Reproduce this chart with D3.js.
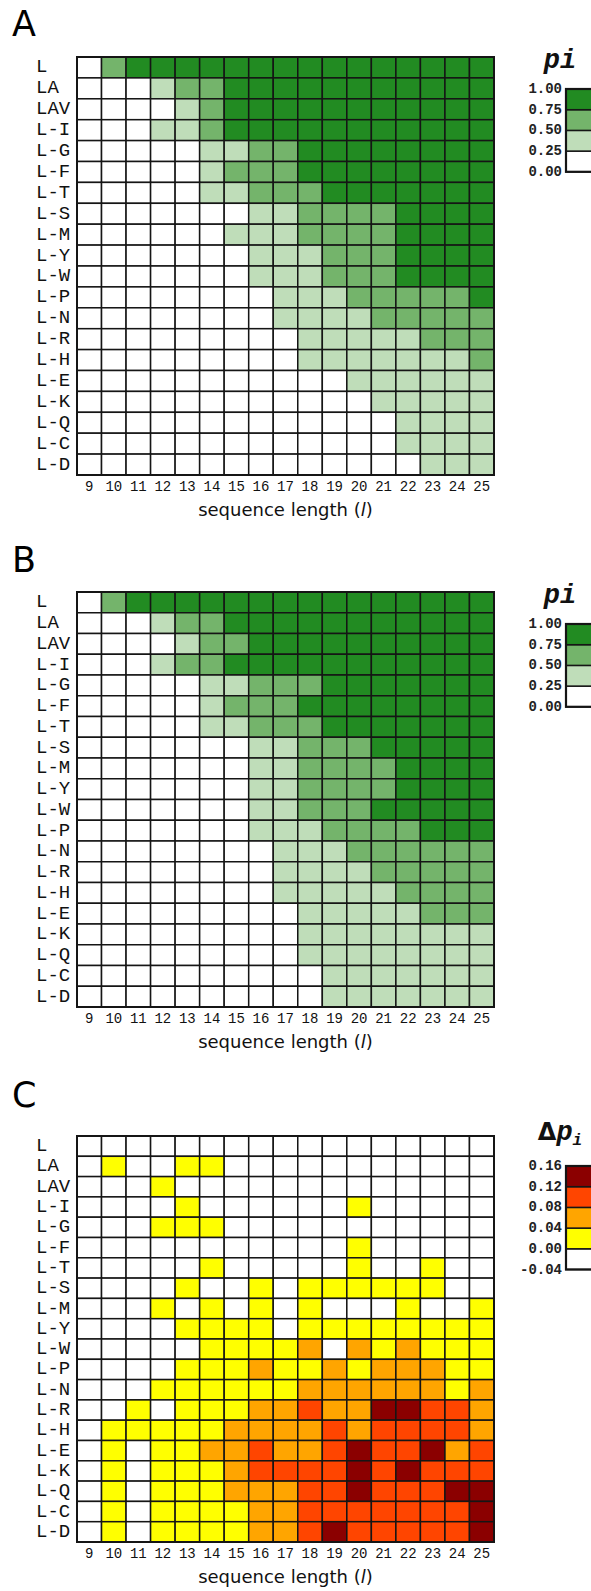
<!DOCTYPE html>
<html><head><meta charset="utf-8">
<script src="https://cdn.jsdelivr.net/npm/d3@7"></script>
<style>body{margin:0;background:#fff}svg{display:block}</style>
</head><body>
<script>
// ---------- data ----------
const lengths = ["9","10","11","12","13","14","15","16","17","18","19","20","21","22","23","24","25"];
const rowLabels = ["L","LA","LAV","L-I","L-G","L-F","L-T","L-S","L-M","L-Y","L-W","L-P","L-N","L-R","L-H","L-E","L-K","L-Q","L-C","L-D"];

// panel A: p_i (estimated per colour bin)
const pA = [
[.1,.6,.9,.9,.9,.9,.9,.9,.9,.9,.9,.9,.9,.9,.9,.9,.9],
[.1,.1,.1,.4,.6,.6,.9,.9,.9,.9,.9,.9,.9,.9,.9,.9,.9],
[.1,.1,.1,.1,.4,.6,.9,.9,.9,.9,.9,.9,.9,.9,.9,.9,.9],
[.1,.1,.1,.4,.4,.6,.9,.9,.9,.9,.9,.9,.9,.9,.9,.9,.9],
[.1,.1,.1,.1,.1,.4,.4,.6,.6,.9,.9,.9,.9,.9,.9,.9,.9],
[.1,.1,.1,.1,.1,.4,.6,.6,.6,.9,.9,.9,.9,.9,.9,.9,.9],
[.1,.1,.1,.1,.1,.4,.4,.6,.6,.6,.9,.9,.9,.9,.9,.9,.9],
[.1,.1,.1,.1,.1,.1,.1,.4,.4,.6,.6,.6,.6,.9,.9,.9,.9],
[.1,.1,.1,.1,.1,.1,.4,.4,.4,.6,.6,.6,.6,.9,.9,.9,.9],
[.1,.1,.1,.1,.1,.1,.1,.4,.4,.4,.6,.6,.6,.9,.9,.9,.9],
[.1,.1,.1,.1,.1,.1,.1,.4,.4,.4,.6,.6,.6,.9,.9,.9,.9],
[.1,.1,.1,.1,.1,.1,.1,.1,.4,.4,.4,.6,.6,.6,.6,.6,.9],
[.1,.1,.1,.1,.1,.1,.1,.1,.4,.4,.4,.4,.6,.6,.6,.6,.6],
[.1,.1,.1,.1,.1,.1,.1,.1,.1,.4,.4,.4,.4,.4,.6,.6,.6],
[.1,.1,.1,.1,.1,.1,.1,.1,.1,.4,.4,.4,.4,.4,.4,.4,.6],
[.1,.1,.1,.1,.1,.1,.1,.1,.1,.1,.1,.4,.4,.4,.4,.4,.4],
[.1,.1,.1,.1,.1,.1,.1,.1,.1,.1,.1,.1,.4,.4,.4,.4,.4],
[.1,.1,.1,.1,.1,.1,.1,.1,.1,.1,.1,.1,.1,.4,.4,.4,.4],
[.1,.1,.1,.1,.1,.1,.1,.1,.1,.1,.1,.1,.1,.4,.4,.4,.4],
[.1,.1,.1,.1,.1,.1,.1,.1,.1,.1,.1,.1,.1,.1,.4,.4,.4]
];

// panel B: p_i
const pB = [
[.1,.6,.9,.9,.9,.9,.9,.9,.9,.9,.9,.9,.9,.9,.9,.9,.9],
[.1,.1,.1,.4,.6,.6,.9,.9,.9,.9,.9,.9,.9,.9,.9,.9,.9],
[.1,.1,.1,.1,.4,.6,.6,.9,.9,.9,.9,.9,.9,.9,.9,.9,.9],
[.1,.1,.1,.4,.6,.6,.9,.9,.9,.9,.9,.9,.9,.9,.9,.9,.9],
[.1,.1,.1,.1,.1,.4,.4,.6,.6,.6,.9,.9,.9,.9,.9,.9,.9],
[.1,.1,.1,.1,.1,.4,.6,.6,.6,.9,.9,.9,.9,.9,.9,.9,.9],
[.1,.1,.1,.1,.1,.4,.4,.6,.6,.6,.9,.9,.9,.9,.9,.9,.9],
[.1,.1,.1,.1,.1,.1,.1,.4,.4,.6,.6,.6,.9,.9,.9,.9,.9],
[.1,.1,.1,.1,.1,.1,.1,.4,.4,.6,.6,.6,.6,.9,.9,.9,.9],
[.1,.1,.1,.1,.1,.1,.1,.4,.4,.6,.6,.6,.6,.9,.9,.9,.9],
[.1,.1,.1,.1,.1,.1,.1,.4,.4,.6,.6,.6,.9,.9,.9,.9,.9],
[.1,.1,.1,.1,.1,.1,.1,.4,.4,.4,.6,.6,.6,.6,.9,.9,.9],
[.1,.1,.1,.1,.1,.1,.1,.1,.4,.4,.4,.6,.6,.6,.6,.6,.6],
[.1,.1,.1,.1,.1,.1,.1,.1,.4,.4,.4,.4,.6,.6,.6,.6,.6],
[.1,.1,.1,.1,.1,.1,.1,.1,.4,.4,.4,.4,.4,.6,.6,.6,.6],
[.1,.1,.1,.1,.1,.1,.1,.1,.1,.4,.4,.4,.4,.4,.6,.6,.6],
[.1,.1,.1,.1,.1,.1,.1,.1,.1,.4,.4,.4,.4,.4,.4,.4,.4],
[.1,.1,.1,.1,.1,.1,.1,.1,.1,.4,.4,.4,.4,.4,.4,.4,.4],
[.1,.1,.1,.1,.1,.1,.1,.1,.1,.1,.4,.4,.4,.4,.4,.4,.4],
[.1,.1,.1,.1,.1,.1,.1,.1,.1,.1,.4,.4,.4,.4,.4,.4,.4]
];

// panel C: delta p_i
const dC = [
[-.02,-.02,-.02,-.02,-.02,-.02,-.02,-.02,-.02,-.02,-.02,-.02,-.02,-.02,-.02,-.02,-.02],
[-.02,.02,-.02,-.02,.02,.02,-.02,-.02,-.02,-.02,-.02,-.02,-.02,-.02,-.02,-.02,-.02],
[-.02,-.02,-.02,.02,-.02,-.02,-.02,-.02,-.02,-.02,-.02,-.02,-.02,-.02,-.02,-.02,-.02],
[-.02,-.02,-.02,-.02,.02,-.02,-.02,-.02,-.02,-.02,-.02,.02,-.02,-.02,-.02,-.02,-.02],
[-.02,-.02,-.02,.02,.02,.02,-.02,-.02,-.02,-.02,-.02,-.02,-.02,-.02,-.02,-.02,-.02],
[-.02,-.02,-.02,-.02,-.02,-.02,-.02,-.02,-.02,-.02,-.02,.02,-.02,-.02,-.02,-.02,-.02],
[-.02,-.02,-.02,-.02,-.02,.02,-.02,-.02,-.02,-.02,-.02,.02,-.02,-.02,.02,-.02,-.02],
[-.02,-.02,-.02,-.02,.02,-.02,-.02,.02,-.02,.02,.02,.02,.02,.02,.02,-.02,-.02],
[-.02,-.02,-.02,.02,-.02,.02,-.02,.02,-.02,.02,-.02,-.02,-.02,.02,-.02,-.02,.02],
[-.02,-.02,-.02,-.02,.02,.02,.02,.02,-.02,.02,.02,.02,.02,.02,.02,.02,.02],
[-.02,-.02,-.02,-.02,-.02,.02,.02,.02,.02,.06,-.02,.06,.02,.06,.02,.02,.02],
[-.02,-.02,-.02,-.02,.02,.02,.02,.06,.02,.02,.06,.02,.06,.06,.06,.02,.02],
[-.02,-.02,-.02,.02,.02,.02,.02,.02,.02,.06,.06,.06,.06,.06,.06,.02,.06],
[-.02,-.02,.02,-.02,.02,.02,.02,.06,.06,.10,.06,.06,.14,.14,.10,.10,.06],
[-.02,.02,.02,.02,.02,.02,.06,.06,.06,.06,.10,.06,.10,.10,.10,.10,.06],
[-.02,.02,-.02,.02,.02,.06,.06,.10,.06,.06,.10,.14,.10,.10,.14,.06,.10],
[-.02,.02,-.02,.02,.02,.02,.06,.10,.10,.10,.10,.14,.10,.14,.10,.10,.10],
[-.02,.02,-.02,.02,.02,.02,.06,.06,.06,.10,.10,.14,.10,.10,.10,.14,.14],
[-.02,.02,-.02,.02,.02,.02,.02,.06,.06,.10,.10,.10,.10,.10,.10,.10,.14],
[-.02,.02,-.02,.02,.02,.02,.02,.06,.06,.10,.14,.10,.10,.10,.10,.10,.14]
];

const pBreaks = [0, 0.25, 0.5, 0.75, 1.0];
const pColors = ["#ffffff", "#bfddb9", "#74b46b", "#228b22"];
const pTickLabels = ["0.00","0.25","0.50","0.75","1.00"];
const dBreaks = [-0.04, 0, 0.04, 0.08, 0.12, 0.16];
const dColors = ["#ffffff", "#ffff00", "#ffa500", "#ff4500", "#8b0000"];
const dTickLabels = ["-0.04","0.00","0.04","0.08","0.12","0.16"];

// ---------- drawing ----------
const W = 591, H = 1591;
const svg = d3.select("body").append("svg").attr("width", W).attr("height", H);
const mono = "'Courier New','Liberation Mono',monospace";
const sans = "'DejaVu Sans',sans-serif";
const x = d3.scaleBand().domain(lengths).range([77, 494]);

function panel(cfg) {
  const g = svg.append("g");
  const y = d3.scaleBand().domain(rowLabels).range([cfg.top, cfg.bottom]);
  const color = d3.scaleThreshold().domain(cfg.breaks.slice(1, -1)).range(cfg.colors);

  g.append("text").attr("x", 12).attr("y", cfg.letterY)
    .attr("font-family", sans).attr("font-size", 35).text(cfg.letter);

  const cells = [];
  cfg.values.forEach((row, i) => row.forEach((v, j) => cells.push({r: rowLabels[i], c: lengths[j], v})));
  g.selectAll("rect.cell").data(cells).join("rect").attr("class", "cell")
    .attr("x", d => x(d.c)).attr("y", d => y(d.r))
    .attr("width", x.bandwidth()).attr("height", y.bandwidth())
    .attr("fill", d => color(d.v)).attr("stroke", "#151515").attr("stroke-width", 1.5);
  g.append("rect").attr("x", x.range()[0]).attr("y", cfg.top)
    .attr("width", x.range()[1] - x.range()[0]).attr("height", cfg.bottom - cfg.top)
    .attr("fill", "none").attr("stroke", "#151515").attr("stroke-width", 2);

  g.selectAll("text.row").data(rowLabels).join("text").attr("class", "row")
    .attr("x", 36).attr("y", d => y(d) + y.bandwidth() / 2)
    .attr("dominant-baseline", "central")
    .attr("font-family", mono).attr("font-size", 19).attr("fill", "#111").text(d => d);

  g.selectAll("text.col").data(lengths).join("text").attr("class", "col")
    .attr("x", d => x(d) + x.bandwidth() / 2).attr("y", cfg.bottom + 12)
    .attr("dominant-baseline", "central").attr("text-anchor", "middle")
    .attr("font-family", mono).attr("font-size", 14).attr("fill", "#111").text(d => d);

  const xt = g.append("text").attr("x", (x.range()[0] + x.range()[1]) / 2).attr("y", cfg.bottom + 41)
    .attr("text-anchor", "middle").attr("font-family", sans).attr("font-size", 18).attr("fill", "#111");
  xt.append("tspan").text("sequence length (");
  xt.append("tspan").attr("font-style", "italic").text("l");
  xt.append("tspan").text(")");

  // legend
  const n = cfg.colors.length;
  const ly = d3.scaleLinear().domain([cfg.breaks[0], cfg.breaks[n]]).range([cfg.legTop + n * 20.7, cfg.legTop]);
  const bands = cfg.colors.map((c, i) => ({c, lo: cfg.breaks[i], hi: cfg.breaks[i + 1]}));
  g.selectAll("rect.leg").data(bands).join("rect").attr("class", "leg")
    .attr("x", 566).attr("y", d => ly(d.hi)).attr("width", 30).attr("height", d => ly(d.lo) - ly(d.hi))
    .attr("fill", d => d.c).attr("stroke", "#151515").attr("stroke-width", 1.5);
  g.append("rect").attr("x", 566).attr("y", ly(cfg.breaks[n])).attr("width", 30)
    .attr("height", ly(cfg.breaks[0]) - ly(cfg.breaks[n]))
    .attr("fill", "none").attr("stroke", "#151515").attr("stroke-width", 2.2);
  g.selectAll("text.leg").data(cfg.breaks).join("text").attr("class", "leg")
    .attr("x", 562).attr("y", d => ly(d)).attr("text-anchor", "end").attr("dominant-baseline", "central")
    .attr("font-family", mono).attr("font-weight", "bold").attr("font-size", 14).attr("fill", "#222")
    .text((d, i) => cfg.tickLabels[i]);

  const tt = g.append("text").attr("x", 560).attr("y", cfg.titleY).attr("text-anchor", "middle")
    .attr("font-family", mono).attr("font-weight", "bold").attr("font-size", 27).attr("fill", "#111");
  if (cfg.delta) {
    tt.append("tspan").attr("font-family", sans).attr("font-size", 24).text("Δ");
    tt.append("tspan").attr("font-style", "italic").text("p");
    tt.append("tspan").attr("font-style", "italic").attr("font-size", 16).attr("dy", 5).text("i");
  } else {
    tt.append("tspan").attr("font-style", "italic").text("p");
    tt.append("tspan").attr("font-style", "italic").text("i");
  }
}

panel({letter: "A", letterY: 36, values: pA, top: 57, bottom: 475, breaks: pBreaks, colors: pColors,
       tickLabels: pTickLabels, legTop: 89, titleY: 68});
panel({letter: "B", letterY: 572, values: pB, top: 592, bottom: 1007, breaks: pBreaks, colors: pColors,
       tickLabels: pTickLabels, legTop: 624, titleY: 603});
panel({letter: "C", letterY: 1107, values: dC, top: 1136, bottom: 1542, breaks: dBreaks, colors: dColors,
       tickLabels: dTickLabels, legTop: 1166, titleY: 1140, delta: true});
</script>
</body></html>
